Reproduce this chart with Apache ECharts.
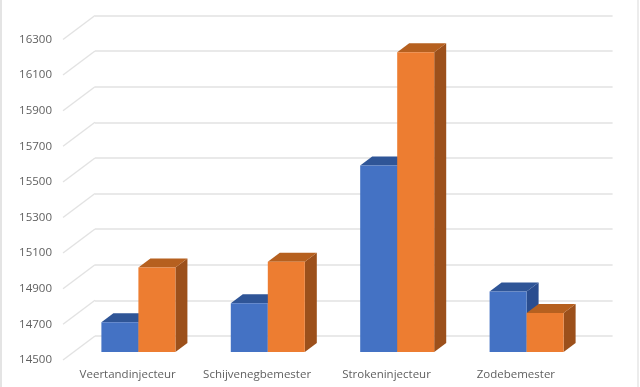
<!DOCTYPE html>
<html>
<head>
<meta charset="utf-8">
<style>html,body{margin:0;padding:0;background:#fff}#c{width:640px;height:387px;filter:blur(0.4px)}</style>
<script src="https://cdn.jsdelivr.net/npm/echarts@6/dist/echarts.min.js"></script>
</head>
<body>
<div id="c"></div>
<script>
const categories = ['Veertandinjecteur', 'Schijvenegbemester', 'Strokeninjecteur', 'Zodebemester'];
const seriesBlue = [14667, 14774, 15547, 14839];
const seriesOrange = [14974, 15007, 16184, 14719];
const tickValues = [14500, 14700, 14900, 15100, 15300, 15500, 15700, 15900, 16100, 16300];
const axisMin = 14500, axisMax = 16300;

const depthX = 32, depthY = 24;        // full depth of the floor
const barNearX = 10.7, barNearY = 8;   // bar front face, from the front plane
const barDepthX = 12, barDepthY = 9;   // bar's own depth
const barShare = 0.286;
const gridColor = '#e2e2e2', textColor = '#5f5f5f';
const font = 'Open Sans';

function barRenderer(slot, front, top, side) {
  return function (params, api) {
    const idx = api.value(0), val = api.value(1);
    const w = api.size([1, 0])[0] * barShare;
    const t = api.coord([idx, val]);
    const b = api.coord([idx, axisMin]);
    const x0 = t[0] + barNearX + slot * w, x1 = x0 + w;
    const y0 = t[1] - barNearY, y1 = b[1] - barNearY;
    const dx = barDepthX, dy = barDepthY;
    return {
      type: 'group',
      children: [
        { type: 'polygon', shape: { points: [[x1, y0], [x1 + dx, y0 - dy], [x1 + dx, y1 - dy], [x1, y1]] }, style: { fill: side } },
        { type: 'polygon', shape: { points: [[x0, y0], [x0 + dx, y0 - dy], [x1 + dx, y0 - dy], [x1, y0]] }, style: { fill: top } },
        { type: 'rect', shape: { x: x0, y: y0, width: w, height: y1 - y0 }, style: { fill: front } }
      ]
    };
  };
}

const chart = echarts.init(document.getElementById('c'), null, { renderer: 'canvas' });
chart.setOption({
  animation: false,
  backgroundColor: '#ffffff',
  graphic: [
    { type: 'rect', shape: { x: 0, y: 0, width: 2, height: 387 }, style: { fill: '#e4e4e4' }, silent: true },
    { type: 'rect', shape: { x: 637, y: 0, width: 2, height: 387 }, style: { fill: '#ececec' }, silent: true }
  ],
  grid: [
    { left: 63, top: 39.5, width: 517.6, height: 320.4 },
    { left: 63 + depthX, top: 39.5 - depthY, width: 517.6, height: 320.4 }
  ],
  xAxis: [
    {
      gridIndex: 0, type: 'category', data: categories,
      axisLine: { show: false }, axisTick: { show: false },
      axisLabel: { color: textColor, fontFamily: font, fontSize: 11.5, margin: 9, interval: 0, hideOverlap: false }
    },
    {
      gridIndex: 1, type: 'category', data: categories,
      axisLine: { show: false }, axisTick: { show: false }, axisLabel: { show: false }
    }
  ],
  yAxis: [
    {
      gridIndex: 0, type: 'value', min: axisMin, max: axisMax,
      axisLine: { show: false },
      axisTick: { show: false, customValues: tickValues },
      splitLine: { show: false },
      axisLabel: { color: textColor, fontFamily: font, fontSize: 11.5, margin: 11, customValues: tickValues, formatter: v => String(v) }
    },
    {
      gridIndex: 1, type: 'value', min: axisMin, max: axisMax,
      axisLine: { show: false },
      axisTick: { show: false, customValues: tickValues },
      axisLabel: { show: false, customValues: tickValues },
      splitLine: { show: true, lineStyle: { color: gridColor, width: 1.5 } }
    }
  ],
  series: [
    {
      type: 'custom', name: 'Wand', xAxisIndex: 0, yAxisIndex: 0, silent: true,
      data: tickValues.map(v => [0, v]),
      renderItem: function (params, api) {
        const c = api.coord([0, api.value(1)]);
        const x = c[0] - api.size([1, 0])[0] / 2;
        return { type: 'line', shape: { x1: x, y1: c[1], x2: x + depthX, y2: c[1] - depthY },
                 style: { stroke: gridColor, lineWidth: 1.3 } };
      }
    },
    {
      type: 'custom', name: 'Reeks 1', xAxisIndex: 0, yAxisIndex: 0,
      data: seriesBlue.map((v, i) => [i, v]),
      renderItem: barRenderer(-1, '#4472c4', '#2f5597', '#2a4d8f')
    },
    {
      type: 'custom', name: 'Reeks 2', xAxisIndex: 0, yAxisIndex: 0,
      data: seriesOrange.map((v, i) => [i, v]),
      renderItem: barRenderer(0, '#ed7d31', '#b6601f', '#9c501b')
    }
  ]
});
</script>
</body>
</html>
